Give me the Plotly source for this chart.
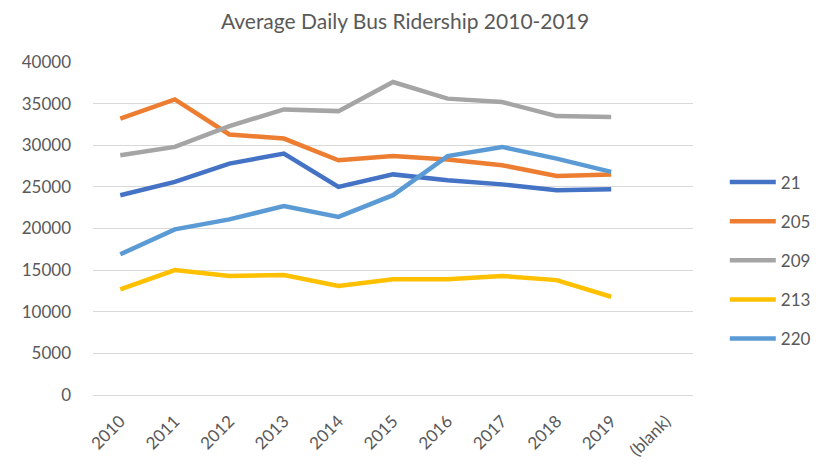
import plotly.graph_objects as go

years = ["2010", "2011", "2012", "2013", "2014", "2015", "2016", "2017", "2018", "2019"]
categories = years + ["(blank)"]

route_names = ["21", "205", "209", "213", "220"]
route_21 = [24000, 25600, 27800, 29000, 25000, 26500, 25800, 25300, 24600, 24700]
route_205 = [33200, 35500, 31300, 30800, 28200, 28700, 28300, 27600, 26300, 26500]
route_209 = [28800, 29800, 32300, 34300, 34100, 37600, 35600, 35200, 33500, 33400]
route_213 = [12700, 15000, 14300, 14400, 13100, 13900, 13900, 14300, 13800, 11800]
route_220 = [16900, 19900, 21100, 22700, 21400, 24000, 28700, 29800, 28400, 26800]

colors = ["#4472C4", "#ED7D31", "#A5A5A5", "#FFC000", "#5B9BD5"]
text_color = "#595959"
font_family = "Lato, 'Open Sans', sans-serif"

fig = go.Figure()

for name, values, color in zip(route_names,
                               [route_21, route_205, route_209, route_213, route_220],
                               colors):
    fig.add_trace(
        go.Scatter(
            x=years,
            y=values,
            mode="lines",
            name=name,
            legendgroup=name,
            line=dict(color=color, width=4.5)
        )
    )

# page body has an 8px margin, so the figure is a bit smaller than the window
fig.update_layout(
    width=823,
    height=456,
    paper_bgcolor="white",
    plot_bgcolor="white",
    margin=dict(l=85, r=138, t=54, b=69),
    title=dict(
        text="Average Daily Bus Ridership 2010-2019",
        x=0.52, xref="paper", xanchor="center",
        y=0.97, yanchor="middle",
        font=dict(family=font_family, size=21, color=text_color)
    ),
    font=dict(family=font_family, color=text_color),
    showlegend=True,
    legend=dict(
        x=1.053, xanchor="left",
        y=0.692, yanchor="top",
        font=dict(family=font_family, size=17, color=text_color),
        tracegroupgap=14,
        itemwidth=46,
        bgcolor="rgba(0,0,0,0)"
    ),
    xaxis=dict(
        type="category",
        categoryorder="array",
        categoryarray=categories,
        range=[-0.5, len(categories) - 0.5],
        tickangle=-45,
        tickfont=dict(family=font_family, size=17, color=text_color),
        showgrid=False,
        showline=False,
        ticks="",
        ticklabelstandoff=12,
        automargin=False
    ),
    yaxis=dict(
        range=[0, 40000],
        dtick=5000,
        tickformat="d",
        tickfont=dict(family=font_family, size=17, color=text_color),
        showgrid=True,
        gridcolor="#D9D9D9",
        gridwidth=1,
        zeroline=True,
        zerolinecolor="#D9D9D9",
        zerolinewidth=1,
        ticks="",
        ticklabelstandoff=21,
        automargin=False
    )
)

fig.write_html("out.html")
